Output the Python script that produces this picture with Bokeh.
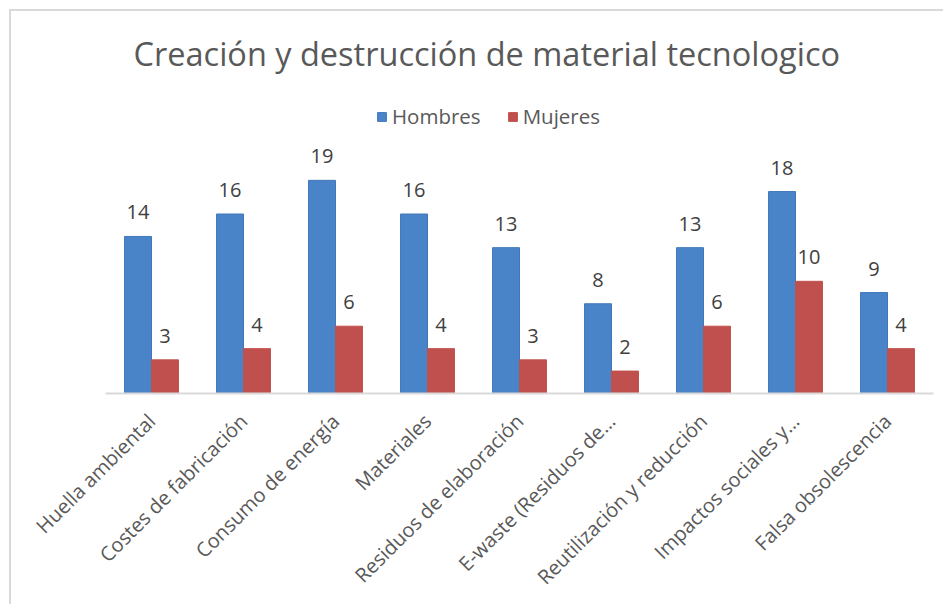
from bokeh.plotting import figure
from bokeh.models import ColumnDataSource, FactorRange, Range1d, Legend, LegendItem
from bokeh.transform import dodge
from bokeh.core.properties import value
from bokeh.embed import file_html
from bokeh.resources import INLINE
from math import pi

categories = ["Huella ambiental", "Costes de fabricación", "Consumo de energía",
              "Materiales", "Residuos de elaboración", "E-waste (Residuos de…",
              "Reutilización y reducción", "Impactos sociales y…", "Falsa obsolescencia"]
hombres = [14, 16, 19, 16, 13, 8, 13, 18, 9]
mujeres = [3, 4, 6, 4, 3, 2, 6, 10, 4]

FONT = "Open Sans"
BLUE = "#4a84c8"
RED = "#c0504d"

src = ColumnDataSource(dict(cat=categories, h=hombres, m=mujeres,
                            hl=[str(v) for v in hombres], ml=[str(v) for v in mujeres]))

p = figure(width=943, height=604, x_range=FactorRange(*categories), y_range=Range1d(0, 27.9),
           output_backend="svg", toolbar_location=None,
           min_border_left=105, min_border_right=10, min_border_top=80, min_border_bottom=211,
           border_fill_alpha=0, background_fill_alpha=0)
p.styles = {"background": "linear-gradient(#d9d9d9,#d9d9d9) 9px 9px / 2px 100% no-repeat, "
                          "linear-gradient(#d9d9d9,#d9d9d9) 9px 9px / 100% 2px no-repeat, #ffffff"}

bw = 0.293
rh = p.vbar(x=dodge("cat", -bw / 2, range=p.x_range), top="h", width=bw, source=src,
            fill_color=BLUE, line_color="#4177b8", line_width=1)
rm = p.vbar(x=dodge("cat", bw / 2, range=p.x_range), top="m", width=bw, source=src,
            fill_color=RED, line_color=RED, line_width=1)

for col, lab, off in (("h", "hl", -bw / 2), ("m", "ml", bw / 2)):
    p.text(x=dodge("cat", off, range=p.x_range), y=col, text=lab, source=src,
           text_align="center", text_baseline="alphabetic", y_offset=-24,
           text_font=value(FONT), text_font_size="20px", text_color="#404040")

p.title.text = "Creación y destrucción de material tecnologico"
p.title.align = "left"
p.title.offset = 28
p.title.text_font = FONT
p.title.text_font_size = "32.5px"
p.title.text_font_style = "normal"
p.title.text_color = "#595959"
p.title.standoff = 10

legend = Legend(items=[LegendItem(label="Hombres", renderers=[rh]),
                       LegendItem(label="Mujeres", renderers=[rm])],
                orientation="horizontal", location=(271, 263),
                label_text_font=FONT, label_text_font_size="20.5px", label_text_color="#595959",
                glyph_width=11, glyph_height=11, spacing=26, label_standoff=5,
                border_line_color=None, background_fill_alpha=0, padding=4, margin=0)
p.add_layout(legend)

p.yaxis.visible = False
p.ygrid.visible = False
p.xgrid.visible = False
p.outline_line_color = None
p.xaxis.axis_line_color = "#d9d9d9"
p.xaxis.axis_line_width = 2
p.xaxis.major_tick_line_color = None
p.xaxis.minor_tick_line_color = None
p.xaxis.major_label_orientation = pi / 4
p.xaxis.major_label_standoff = 18
p.xaxis.major_label_text_font = FONT
p.xaxis.major_label_text_font_size = "20px"
p.xaxis.major_label_text_color = "#595959"

open("out.html", "w").write(file_html(p, INLINE))
